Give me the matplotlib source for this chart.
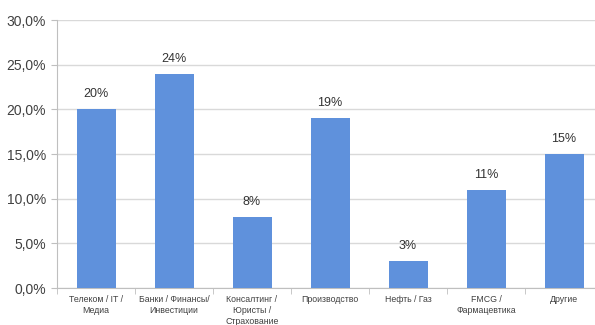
import matplotlib
matplotlib.use('Agg')
import matplotlib.pyplot as plt
from matplotlib.ticker import FuncFormatter, FixedLocator

categories = ['Телеком / IT /\nМедиа', 'Банки / Финансы/\nИнвестиции',
              'Консалтинг /\nЮристы /\nСтрахование', 'Производство',
              'Нефть / Газ', 'FMCG /\nФармацевтика', 'Другие']
values = [20, 24, 8, 19, 3, 11, 15]
yticks = [0, 5, 10, 15, 20, 25, 30]

plt.rcParams['font.family'] = ['Liberation Sans', 'DejaVu Sans']

fig = plt.figure(figsize=(5.95, 3.25), dpi=100)
ax = fig.add_axes([57 / 595, 37 / 325, 546 / 595, 268 / 325])

x = list(range(len(categories)))
ax.bar(x, values, width=0.5, color='#5F91DC', zorder=3)
for xi, v in zip(x, values):
    ax.text(xi, v + 1.0, f'{v}%', ha='center', va='bottom', fontsize=9, color='#333333')

ax.set_xlim(-0.5, len(categories) - 0.5)
ax.set_ylim(0, 30)
ax.set_yticks(yticks)
ax.yaxis.set_major_formatter(FuncFormatter(lambda v, p: f'{v:.1f}%'.replace('.', ',')))
ax.grid(axis='y', color='#d9d9d9', linewidth=1, zorder=0)

ax.set_xticks(x)
ax.set_xticklabels(categories, fontsize=6.3, color='#404040', linespacing=1.3, va='top')
ax.xaxis.set_minor_locator(FixedLocator([i - 0.5 for i in range(len(categories) + 1)]))
ax.tick_params(axis='x', which='major', length=0, pad=5)
ax.tick_params(axis='x', which='minor', length=4, color='#bfbfbf')
ax.tick_params(axis='y', length=4, color='#bfbfbf', labelsize=10, labelcolor='#404040', pad=4)

for s in ['top', 'right']:
    ax.spines[s].set_visible(False)
ax.spines['left'].set_color('#bfbfbf')
ax.spines['bottom'].set_color('#bfbfbf')

fig.savefig('out.png', dpi=100)
